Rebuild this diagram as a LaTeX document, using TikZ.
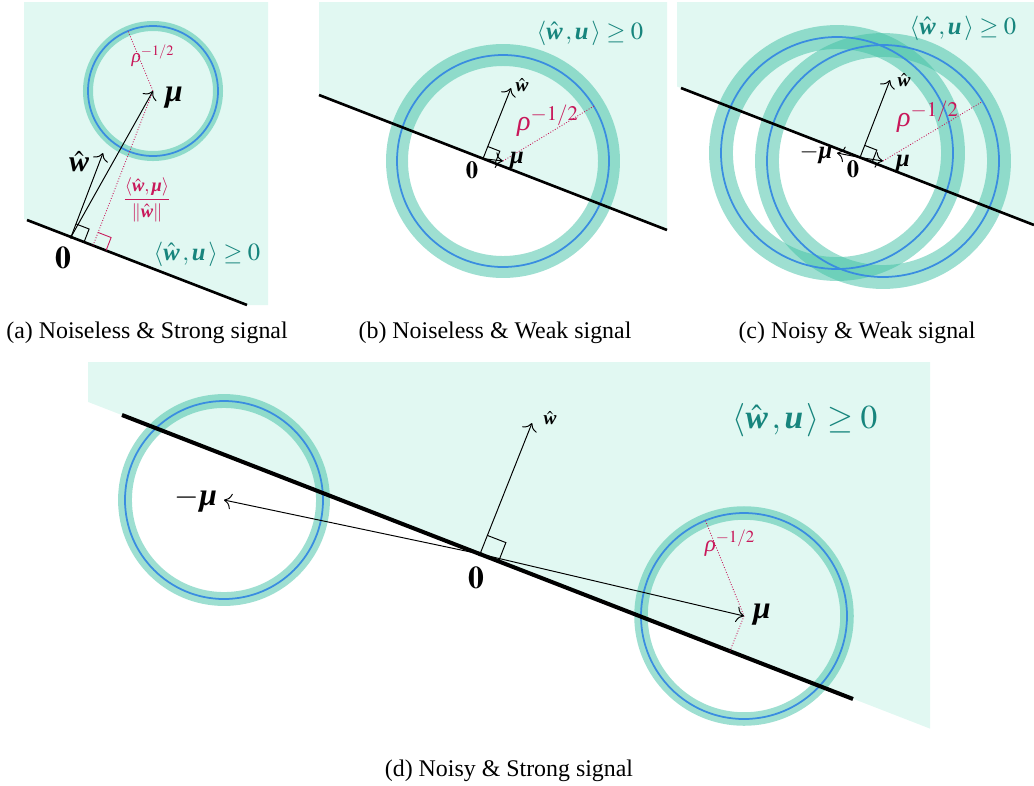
\documentclass[tikz,border=0pt]{standalone}
\usepackage{amsmath,amssymb}
\usepackage{mathptmx}
\usepackage{fontspec}
\setmainfont{Liberation Serif}
\usetikzlibrary{arrows.meta,calc}
\definecolor{mint}{HTML}{E1F8F2}
\definecolor{ringteal}{HTML}{3EC0A4}
\definecolor{ringblue}{HTML}{3A8DE0}
\definecolor{halfteal}{HTML}{17857D}
\definecolor{crim}{HTML}{C8185A}
\newcommand{\bi}[1]{\text{\normalfont\bfseries\itshape #1}}
\newcommand{\wh}{\hat{\bi{w}}}
\newcommand{\mub}{\bi{μ}}
\newcommand{\rh}{\text{\normalfont\itshape ρ}}
\newcommand{\halfspace}{\langle\wh\,,\bi{u}\,\rangle\geq 0}
\newcommand{\fs}[1]{\fontsize{#1}{#1}\selectfont}
\tikzset{
  half/.style={fill=mint,draw=none},
  sepline/.style={draw=black,line width=#1},
  ring/.style={draw=ringteal,draw opacity=0.5,line width=#1},
  core/.style={draw=ringblue,line width=1pt},
  vec/.style={-{To[length=1.5mm]},line width=0.55pt},
  radial/.style={draw=crim,densely dotted,line width=0.5pt},
  rangle/.style={line width=0.55pt},
  lbl/.style={inner sep=0pt},
  captext/.style={inner sep=0pt,font=\fs{13.6}},
}

\begin{document}
\begin{tikzpicture}[x=0.02cm,y=-0.02cm]
  \useasboundingbox (0,0) rectangle (1034,785);
  % (a) noiseless, strong signal
  \fill[half] (24,2) -- (268,2) -- (268,305) -- (247,305) -- (24,219) -- cycle;
  \coordinate (oa) at (71,237);
  \coordinate (ma) at (153,91);
  \coordinate (wa) at (103,153);
  \coordinate (fa) at (93,245.5);
  \coordinate (ra) at (128,31);
  \draw[ring=5.7pt] (ma) circle[radius=65];
  \draw[core] (ma) circle[radius=65];
  \draw[sepline=1.5pt] (27,220) -- (247,305);
  \draw[radial] (fa) -- (ma) -- (ra);
  \draw[radial,shift={(fa)},rotate=-21.2,solid] (14,0) -- (14,-14) -- (0,-14);
  \draw[vec] (oa) -- (ma);
  \draw[vec] (oa) -- (wa);
  \draw[rangle,shift={(oa)},rotate=-21.2] (14,0) -- (14,-14) -- (0,-14);
  \fill (oa) circle[radius=1.8];
  \node[lbl,font=\fs{18}] (mua) at (174,98) {$\mub$};
  \node[lbl,font=\fs{17}] (wla) at (79,162) {$\wh$};
  \node[lbl,font=\fs{18}] (za) at (63,258) {$\mathbf{0}$};
  \node[lbl,font=\fs{11},text=crim] (rla) at (153,56) {$\rh^{-1/2}$};
  \node[lbl,font=\fs{10.5},text=crim] (pa) at (147,200) {$\dfrac{\langle\wh,\mub\rangle}{\|\wh\|}$};
  \node[lbl,font=\fs{14},text=halfteal] (ha) at (207,254) {$\halfspace$};
  \node[captext] (capa) at (147,333) {(a) Noiseless \& Strong signal};

  % (b) noiseless, weak signal
  \fill[half] (319,2) -- (667,2) -- (667,230) -- (319,95) -- cycle;
  \coordinate (ob) at (483,158.6);
  \coordinate (mb) at (503,161);
  \coordinate (wb) at (511,88);
  \coordinate (rb) at (594,106);
  \draw[ring=12.5pt] (mb) circle[radius=106];
  \draw[core] (mb) circle[radius=106];
  \draw[sepline=1.5pt] (319,95) -- (667,230);
  \draw[radial] (mb) -- (rb);
  \draw[vec] (ob) -- (mb);
  \draw[vec] (ob) -- (wb);
  \draw[rangle,shift={(ob)},rotate=-21.2] (13,0) -- (13,-13) -- (0,-13);
  \node[lbl,font=\fs{14}] (mub) at (517,160) {$\mub$};
  \node[lbl,font=\fs{14}] (zb) at (472,170) {$\mathbf{0}$};
  \node[lbl,font=\fs{11}] (wlb) at (522,85) {$\wh$};
  \node[lbl,font=\fs{16},text=crim] (rlb) at (548,121) {$\rh^{-1/2}$};
  \node[lbl,font=\fs{14},text=halfteal] (hb) at (590,33) {$\halfspace$};
  \node[captext] (capb) at (495,333) {(b) Noiseless \& Weak signal};

  % (c) noisy, weak signal
  \fill[half] (677,2) -- (1034,2) -- (1034,225) -- (677,86.5) -- cycle;
  \coordinate (oc) at (860,157.5);
  \coordinate (mc) at (883,161);
  \coordinate (nc) at (837,153);
  \coordinate (wc) at (890,80);
  \coordinate (rc) at (982.5,101.5);
  \draw[ring=13.6pt] (nc) circle[radius=116];
  \draw[ring=13.6pt] (mc) circle[radius=116];
  \draw[core] (nc) circle[radius=116];
  \draw[core] (mc) circle[radius=116];
  \draw[sepline=1.5pt] (681,88) -- (1034,225);
  \draw[radial] (mc) -- (rc);
  \draw[vec] (oc) -- (mc);
  \draw[vec] (oc) -- (nc);
  \draw[vec] (oc) -- (wc);
  \draw[rangle,shift={(oc)},rotate=-21.2] (13,0) -- (13,-13) -- (0,-13);
  \node[lbl,font=\fs{14}] (nuc) at (816,154) {$-\mub$};
  \node[lbl,font=\fs{14}] (muc) at (903,163) {$\mub$};
  \node[lbl,font=\fs{14}] (zc) at (853,169) {$\mathbf{0}$};
  \node[lbl,font=\fs{11}] (wlc) at (904,80) {$\wh$};
  \node[lbl,font=\fs{16},text=crim] (rlc) at (928,117) {$\rh^{-1/2}$};
  \node[lbl,font=\fs{14},text=halfteal] (hc) at (963,28) {$\halfspace$};
  \node[captext] (capc) at (857,333) {(c) Noisy \& Weak signal};

  % (d) noisy, strong signal
  \fill[half] (88,362) -- (930,362) -- (930,728.6) -- (88,401.9) -- cycle;
  \coordinate (od) at (480,554);
  \coordinate (md) at (744,616);
  \coordinate (nd) at (224,500);
  \coordinate (wd) at (532,423);
  \coordinate (rd) at (705.4,520.5);
  \coordinate (fd) at (730,651);
  \draw[ring=7.9pt] (nd) circle[radius=99];
  \draw[ring=7.7pt] (md) circle[radius=103];
  \draw[core] (nd) circle[radius=99];
  \draw[core] (md) circle[radius=103];
  \draw[sepline=2.3pt] (122,415) -- (853,699);
  \draw[radial] (fd) -- (md) -- (rd);
  \draw[vec] (od) -- (md);
  \draw[vec] (od) -- (nd);
  \draw[vec] (od) -- (wd);
  \draw[rangle,shift={(od)},rotate=-21.2] (20,0) -- (20,-20) -- (0,-20);
  \fill (od) circle[radius=2.2];
  \node[lbl,font=\fs{18}] (nud) at (196,500) {$-\mub$};
  \node[lbl,font=\fs{18}] (mud) at (762,615) {$\mub$};
  \node[lbl,font=\fs{18}] (zd) at (476,578) {$\mathbf{0}$};
  \node[lbl,font=\fs{11}] (wld) at (550,418) {$\wh$};
  \node[lbl,font=\fs{13},text=crim] (rld) at (730,543) {$\rh^{-1/2}$};
  \node[lbl,font=\fs{19},text=halfteal] (hd) at (805,420) {$\halfspace$};
  \node[captext] (capd) at (509,771) {(d) Noisy \& Strong signal};
\end{tikzpicture}
\end{document}
